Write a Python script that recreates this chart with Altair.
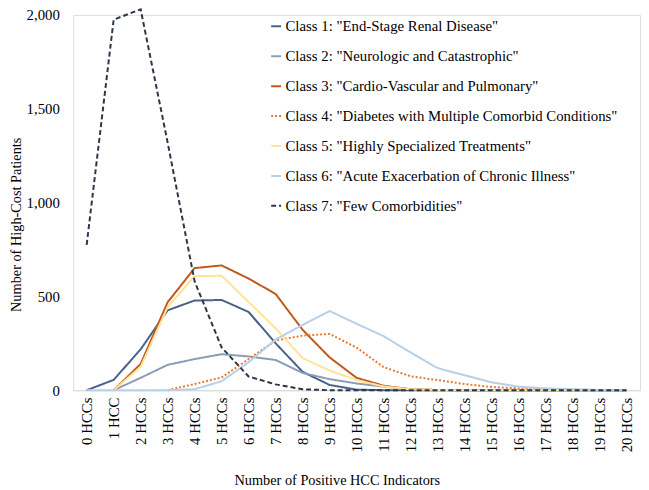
import altair as alt
import pandas as pd

categories = ["0 HCCs", "1 HCC"] + [f"{i} HCCs" for i in range(2, 21)]

class_names = [
    'Class 1: "End-Stage Renal Disease"',
    'Class 2: "Neurologic and Catastrophic"',
    'Class 3: "Cardio-Vascular and Pulmonary"',
    'Class 4: "Diabetes with Multiple Comorbid Conditions"',
    'Class 5: "Highly Specialized Treatments"',
    'Class 6: "Acute Exacerbation of Chronic Illness"',
    'Class 7: "Few Comorbidities"',
]

# values per category (None = not plotted)
class1 = [0, 55, 218, 426, 478, 481, 417, 250, 98, 28, 3, 0, 0, 0, 0, 0, 0, 0, 0, 0, 0]
class2 = [None, 0, 66, 135, 166, 192, 180, 161, 92, 59, 36, 19, 5, 1, 0, 0, 0, 0, 0, 0, 0]
class3 = [None, 0, 140, 469, 651, 665, 595, 513, 322, 175, 66, 24, 5, 1, 0, 0, 0, 0, 0, 0, 0]
class4 = [None, None, None, 0, 33, 68, 166, 265, 291, 300, 227, 123, 74, 54, 33, 17, 10, 6, 3, 1, 0]
class5 = [None, 0, 125, 443, 608, 610, 470, 330, 171, 105, 54, 20, 5, 1, 0, 0, 0, 0, 0, 0, 0]
class6 = [0, 0, 0, 0, 5, 48, 149, 270, 348, 422, 354, 288, 201, 118, 80, 42, 19, 10, 5, 2, 0]
class7 = [775, 1975, 2030, 1320, 580, 228, 73, 31, 5, 0, 0, 0, 0, 0, 0, 0, 0, 0, 0, 0, 0]

series = [class1, class2, class3, class4, class5, class6, class7]
colors = ["#4A6287", "#8A9DB8", "#C0591A", "#E8772E", "#FFE497", "#B7D0EA", "#2B3648"]
dashes = [[1, 0], [1, 0], [1, 0], [2, 2], [1, 0], [1, 0], [5, 3]]

rows = []
for name, vals in zip(class_names, series):
    for cat, v in zip(categories, vals):
        if v is not None:
            rows.append({"cat": cat, "value": v, "cls": name})
df = pd.DataFrame(rows)

FONT = "Liberation Serif"

legend_kwargs = dict(
    title=None,
    orient="none",
    legendX=198,
    legendY=4,
    symbolType="stroke",
    symbolSize=100,
    symbolStrokeWidth=2,
    labelFont=FONT,
    labelFontSize=15,
    labelColor="#000000",
    labelLimit=600,
    labelOffset=2,
    rowPadding=14.3,
    padding=0,
)

chart = alt.Chart(df).mark_line(strokeWidth=2).encode(
    x=alt.X(
        "cat:N",
        sort=categories,
        scale=alt.Scale(type="point", padding=0.5),
        axis=alt.Axis(
            title="Number of Positive HCC Indicators",
            labelAngle=270,
            ticks=False,
            labelPadding=7,
            domainColor="#D9D9D9",
            domainWidth=1,
            grid=False,
            labelFont=FONT,
            labelFontSize=15,
            labelColor="#000000",
            titleFont=FONT,
            titleFontSize=14.5,
            titleFontWeight="normal",
            titleColor="#000000",
            titleX=267,
            titleY=91,
            titleBaseline="middle",
        ),
    ),
    y=alt.Y(
        "value:Q",
        scale=alt.Scale(domain=[0, 2000], nice=False),
        axis=alt.Axis(
            title="Number of High-Cost Patients",
            values=[0, 500, 1000, 1500, 2000],
            format=",d",
            ticks=False,
            domain=False,
            grid=False,
            labelPadding=14,
            labelFont=FONT,
            labelFontSize=15,
            labelColor="#000000",
            titleFont=FONT,
            titleFontSize=14.5,
            titleFontWeight="normal",
            titleColor="#000000",
            titleX=-57,
            titleY=212,
            titleBaseline="middle",
        ),
    ),
    color=alt.Color(
        "cls:N",
        sort=class_names,
        scale=alt.Scale(domain=class_names, range=colors),
        legend=alt.Legend(**legend_kwargs),
    ),
    strokeDash=alt.StrokeDash(
        "cls:N",
        sort=class_names,
        scale=alt.Scale(domain=class_names, range=dashes),
        legend=alt.Legend(**legend_kwargs),
    ),
    order=alt.Order("cat_idx:Q"),
).transform_calculate(
    cat_idx="indexof(" + str(categories) + ", datum.cat)"
).properties(
    width=574,
    height=380,
    autosize=alt.AutoSizeParams(type="none"),
    padding={"left": 66, "top": 4, "right": 1, "bottom": 97},
).configure_view(
    stroke=None
).configure(
    background="#FFFFFF"
)

chart.save("out.html", embed_options={"renderer": "svg", "actions": False})
